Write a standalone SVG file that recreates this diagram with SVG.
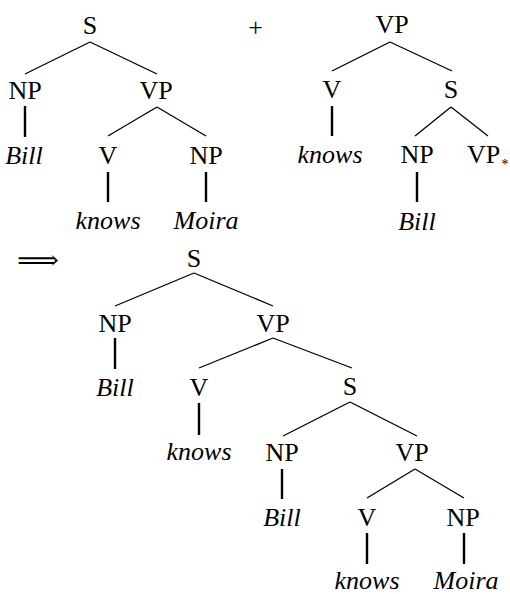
<svg xmlns="http://www.w3.org/2000/svg" width="510" height="594" viewBox="0 0 510 594">
  <style>
    text { font-family: "Liberation Serif", "Times New Roman", serif; font-size: 26px; fill: #000; text-anchor: middle; }
    .w { font-style: italic; }
    .edge { stroke: #000; stroke-width: 1.3; fill: none; }
    .lex { stroke: #000; stroke-width: 2.4; fill: none; }
  </style>
  <rect width="510" height="594" fill="#fff"/>

  <!-- connectors -->
  <g id="connectors">
    <!-- tree 1: S(Bill, VP(knows, Moira)) -->
    <line class="edge" x1="90" y1="42" x2="25" y2="74"/>
    <line class="edge" x1="90" y1="42" x2="157" y2="74"/>
    <line class="lex" x1="25" y1="106" x2="25" y2="137"/>
    <line class="edge" x1="157" y1="107" x2="108" y2="136"/>
    <line class="edge" x1="157" y1="107" x2="206" y2="136"/>
    <line class="lex" x1="108" y1="172" x2="108" y2="202"/>
    <line class="lex" x1="206" y1="172" x2="206" y2="202"/>
    <!-- tree 2: VP(knows, S(Bill, VP*)) -->
    <line class="edge" x1="390" y1="42" x2="332" y2="71"/>
    <line class="edge" x1="390" y1="42" x2="452" y2="71"/>
    <line class="lex" x1="332" y1="106" x2="332" y2="136"/>
    <line class="edge" x1="451" y1="107" x2="415" y2="136"/>
    <line class="edge" x1="451" y1="107" x2="488" y2="136"/>
    <line class="lex" x1="417" y1="172" x2="417" y2="202"/>
    <!-- result tree -->
    <line class="edge" x1="194" y1="273" x2="115" y2="306"/>
    <line class="edge" x1="194" y1="273" x2="273" y2="306"/>
    <line class="lex" x1="115" y1="338" x2="115" y2="369"/>
    <line class="edge" x1="273" y1="338" x2="199" y2="368"/>
    <line class="edge" x1="273" y1="338" x2="352" y2="368"/>
    <line class="lex" x1="199" y1="403" x2="199" y2="435"/>
    <line class="edge" x1="350" y1="402" x2="283" y2="436"/>
    <line class="edge" x1="350" y1="402" x2="417" y2="436"/>
    <line class="lex" x1="282" y1="469" x2="282" y2="499"/>
    <line class="edge" x1="415" y1="469" x2="367" y2="498"/>
    <line class="edge" x1="415" y1="469" x2="464" y2="498"/>
    <line class="lex" x1="367" y1="533" x2="367" y2="564"/>
    <line class="lex" x1="464" y1="533" x2="464" y2="564"/>
  </g>

  <!-- tree 1 -->
  <g id="t1-S"><text x="90" y="34">S</text></g>
  <g id="t1-NP"><text x="25" y="99">NP</text></g>
  <g id="t1-VP"><text x="156" y="99">VP</text></g>
  <g id="t1-Bill"><text class="w" x="24" y="164">Bill</text></g>
  <g id="t1-V"><text x="108" y="164">V</text></g>
  <g id="t1-NP2"><text x="206" y="164">NP</text></g>
  <g id="t1-knows"><text class="w" x="108" y="229">knows</text></g>
  <g id="t1-Moira"><text class="w" x="206" y="229">Moira</text></g>

  <!-- plus sign -->
  <g id="plus"><text x="255.5" y="36">+</text></g>

  <!-- tree 2 -->
  <g id="t2-VP"><text x="392" y="33">VP</text></g>
  <g id="t2-V"><text x="332" y="98">V</text></g>
  <g id="t2-S"><text x="451" y="98">S</text></g>
  <g id="t2-knows"><text class="w" x="330" y="163">knows</text></g>
  <g id="t2-NP"><text x="417" y="163">NP</text></g>
  <g id="t2-VPfoot">
    <text x="483.5" y="163">VP</text>
    <text x="505" y="169" style="font-size:14px">*</text>
  </g>
  <g id="t2-Bill"><text class="w" x="417" y="230">Bill</text></g>

  <!-- derivation arrow -->
  <g id="arrow"><text x="38" y="269" textLength="42" lengthAdjust="spacingAndGlyphs" style="font-family:'DejaVu Serif','DejaVu Sans',serif">⟹</text></g>

  <!-- result tree -->
  <g id="r-S"><text x="194" y="267">S</text></g>
  <g id="r-NP"><text x="115" y="332">NP</text></g>
  <g id="r-VP"><text x="273" y="332">VP</text></g>
  <g id="r-Bill"><text class="w" x="115" y="396">Bill</text></g>
  <g id="r-V"><text x="199" y="396">V</text></g>
  <g id="r-S2"><text x="350" y="395">S</text></g>
  <g id="r-knows"><text class="w" x="199" y="460">knows</text></g>
  <g id="r-NP2"><text x="282" y="461">NP</text></g>
  <g id="r-VP2"><text x="412" y="461">VP</text></g>
  <g id="r-Bill2"><text class="w" x="282" y="526">Bill</text></g>
  <g id="r-V2"><text x="367" y="526">V</text></g>
  <g id="r-NP3"><text x="463" y="526">NP</text></g>
  <g id="r-knows2"><text class="w" x="367" y="589">knows</text></g>
  <g id="r-Moira"><text class="w" x="466" y="589">Moira</text></g>
</svg>
